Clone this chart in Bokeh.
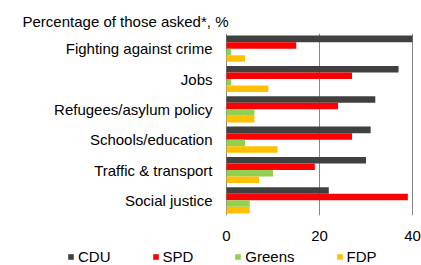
from bokeh.plotting import figure
from bokeh.layouts import column
from bokeh.models import (FactorRange, Range1d, FixedTicker, Legend, LegendItem,
                          ColumnDataSource)
from bokeh.core.properties import value
from bokeh.transform import dodge
from bokeh.embed import file_html
from bokeh.resources import INLINE

categories = ["Fighting against crime", "Jobs", "Refugees/asylum policy",
              "Schools/education", "Traffic & transport", "Social justice"]
cdu = [40, 37, 32, 31, 30, 22]
spd = [15, 27, 24, 27, 19, 39]
greens = [1, 1, 6, 4, 10, 5]
fdp = [4, 9, 6, 11, 7, 5]
parties = ["CDU", "SPD", "Greens", "FDP"]
colors = ["#404040", "#ff0000", "#92d050", "#ffc000"]
x_ticks = [0, 20, 40]
title_text = "Percentage of those asked*, %"

FONT = "Liberation Sans"
FS = "15px"
W = 421
PX_PER_UNIT = 4.65
ZERO_PX = 226
RIGHT_PX = 412

src = ColumnDataSource(dict(cat=categories, CDU=cdu, SPD=spd, Greens=greens, FDP=fdp))

x_start = -ZERO_PX / PX_PER_UNIT
x_end = x_ticks[-1] + (W - RIGHT_PX) / PX_PER_UNIT

p = figure(width=W, height=243,
           y_range=FactorRange(*categories[::-1]),
           x_range=Range1d(x_start, x_end),
           y_axis_location=None,
           output_backend="svg", toolbar_location=None,
           min_border_left=0, min_border_right=0,
           min_border_top=33, min_border_bottom=27)
p.outline_line_color = None
p.background_fill_color = "white"

offsets = [0.3225, 0.1075, -0.1075, -0.3225]
for party, col, off in zip(parties, colors, offsets):
    p.hbar(y=dodge("cat", off, range=p.y_range), left=0, right=party,
           height=0.215, fill_color=col, line_color=None, source=src)

# category labels (left of the zero line)
p.text(x=0, y="cat", text="cat", source=src, x_offset=-14,
       text_align="right", text_baseline="middle",
       text_font=value(FONT), text_font_size=FS, text_color="black")

p.ygrid.visible = False
p.xgrid.ticker = FixedTicker(ticks=x_ticks)
p.xgrid.grid_line_color = "#868686"
p.xgrid.grid_line_width = 1

p.xaxis.ticker = FixedTicker(ticks=x_ticks)
p.xaxis.axis_line_color = None
p.xaxis.major_tick_line_color = None
p.xaxis.minor_tick_line_color = None
p.xaxis.major_label_text_font = FONT
p.xaxis.major_label_text_font_size = FS
p.xaxis.major_label_text_color = "black"
p.xaxis.major_label_standoff = 9

p.title.text = title_text
p.title.align = "left"
p.title.offset = 22
p.title.standoff = 8
p.title.text_font = FONT
p.title.text_font_size = FS
p.title.text_font_style = "normal"
p.title.text_color = "black"

# legend strip
lg = figure(width=W, height=22, output_backend="svg", toolbar_location=None,
            x_range=Range1d(0, 1), y_range=Range1d(0, 1),
            x_axis_location=None, y_axis_location=None, min_border=0)
lg.outline_line_color = None
lg.grid.visible = False
items = []
for party, col in zip(parties, colors):
    # legend proxy glyphs, placed outside the visible range
    r = lg.hbar(y=[-5], left=[0], right=[0], height=0.5,
                fill_color=col, line_color=None)
    items.append(LegendItem(label=party, renderers=[r]))

legend = Legend(items=items, orientation="horizontal", location=(67, 0),
                padding=0, margin=0, spacing=41, glyph_width=7, glyph_height=7,
                label_standoff=4, label_height=15,
                label_text_font=FONT, label_text_font_size=FS,
                label_text_color="black",
                border_line_color=None, background_fill_alpha=0)
lg.add_layout(legend)

layout = column(p, lg, spacing=0)
open("out.html", "w").write(file_html(layout, INLINE))
